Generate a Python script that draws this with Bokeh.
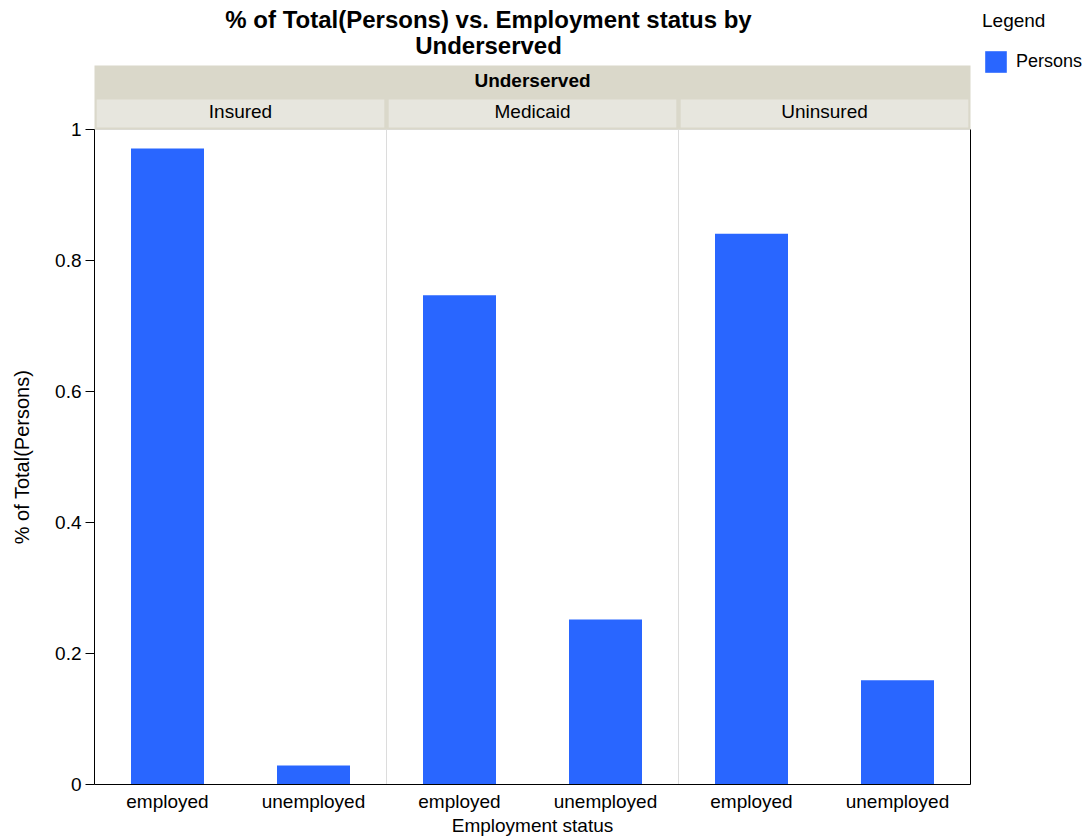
import math
from bokeh.plotting import figure
from bokeh.layouts import row
from bokeh.models import (FactorRange, ColumnDataSource, FixedTicker, LinearAxis,
                          Legend, LegendItem, Range1d)
from bokeh.core.properties import value
from bokeh.embed import file_html
from bokeh.resources import INLINE

# ---- data ----
facet_name = "Underserved"
groups = ["Insured", "Medicaid", "Uninsured"]
statuses = ["employed", "unemployed"]
insured_vals = [0.971, 0.029]
medicaid_vals = [0.747, 0.252]
uninsured_vals = [0.841, 0.159]
y_ticks = [0, 0.2, 0.4, 0.6, 0.8, 1]
y_tick_labels = ["0", "0.2", "0.4", "0.6", "0.8", "1"]
series_name = "Persons"
title_lines = ["% of Total(Persons) vs. Employment status by", "Underserved"]
x_label = "Employment status"
y_label = "% of Total(Persons)"

FONT = "Liberation Sans"
BAR = "#2966FF"
HEAD_DARK = "#dad8ca"
HEAD_LIGHT = "#e7e6de"

factors = [(g, s) for g in groups for s in statuses]
vals = insured_vals + medicaid_vals + uninsured_vals
src = ColumnDataSource(dict(x=factors, top=vals))

y_end = 1.197      # frame reaches the top of the canvas (title lives inside)
band_top = 1.0977  # top of facet header band

xr = FactorRange(*factors, factor_padding=0, group_padding=0,
                 subgroup_padding=0, range_padding=0)
yr = Range1d(0, y_end)

p = figure(frame_width=876, frame_height=784, output_backend="svg",
           toolbar_location=None, x_range=xr, y_range=yr,
           min_border_left=52, min_border_right=5, min_border_top=0,
           min_border_bottom=50)
p.outline_line_color = None
p.xgrid.visible = False
p.ygrid.visible = False
p.background_fill_color = "white"

# panel separators
p.rect(x=groups, y=0.5, width=2, height=1, fill_color=None,
       line_color="#dcdcdc", line_width=1)

bars = p.vbar(x="x", top="top", bottom=0, width=0.5, source=src,
              fill_color=BAR, line_color=None)

# facet headers
p.rect(x=["Medicaid"], y=[(1.0 + band_top) / 2], width=6.02, height=band_top - 1.0,
       fill_color=HEAD_DARK, line_color=None)
p.rect(x=groups, y=1.0244, width=1.97, height=0.0427,
       fill_color=HEAD_LIGHT, line_color=None)
p.text(x=["Medicaid"], y=[1.0748], text=[facet_name], text_align="center",
       text_baseline="middle", text_font=value(FONT), text_font_size="19px",
       text_font_style="bold", text_color="black")
p.text(x=groups, y=1.0275, text=groups, text_align="center",
       text_baseline="middle", text_font=value(FONT), text_font_size="19px",
       text_color="black")

# chart title (two centred lines)
p.text(x=["Medicaid", "Medicaid"], y=[1.1679, 1.1282], text=title_lines,
       text_align="center", text_baseline="middle", x_offset=-44,
       text_font=value(FONT), text_font_size="24px", text_font_style="bold",
       text_color="black")

# y axis
ya = p.yaxis[0]
ya.bounds = (0, 1)
ya.ticker = FixedTicker(ticks=y_ticks)
ya.major_label_overrides = {t: l for t, l in zip(y_ticks, y_tick_labels)}
ya.minor_tick_line_color = None
ya.major_tick_in = 0
ya.major_tick_out = 9
ya.axis_line_color = "black"
ya.major_tick_line_color = "black"
ya.major_label_text_font = FONT
ya.major_label_text_font_size = "19px"
ya.major_label_text_color = "black"
ya.major_label_standoff = 4

# x axis
xa = p.xaxis[0]
xa.major_tick_line_color = None
xa.minor_tick_line_color = None
xa.axis_line_color = "black"
xa.separator_line_color = None
xa.group_text_font_size = "0px"
xa.group_text_color = None
xa.major_label_text_font = FONT
xa.major_label_text_font_size = "19px"
xa.major_label_text_color = "black"
xa.major_label_standoff = 0
xa.major_label_orientation = "horizontal"
xa.axis_label = x_label
xa.axis_label_text_font = FONT
xa.axis_label_text_font_size = "19px"
xa.axis_label_text_font_style = "normal"
xa.axis_label_text_color = "black"
xa.axis_label_standoff = 0

# right border
ra = LinearAxis(bounds=(0, 1), major_tick_line_color=None, minor_tick_line_color=None,
                major_label_text_font_size="0px", major_label_text_color=None,
                axis_line_color="black", major_label_standoff=0)
p.add_layout(ra, "right")

# y-axis title strip (centred on the 0..1 value axis)
lab = figure(width=42, frame_height=784, output_backend="svg", toolbar_location=None,
             x_range=Range1d(0, 1), y_range=yr, x_axis_location=None,
             y_axis_location=None, min_border_left=0, min_border_right=0,
             min_border_top=0, min_border_bottom=0)
lab.outline_line_color = None
lab.grid.visible = False
lab.text(x=[0.5], y=[0.5], text=[y_label], angle=math.pi / 2,
         text_align="center", text_baseline="middle", text_font=value(FONT),
         text_font_size="20px", text_color="black")

# legend strip: its bars lie below the strip's visible y window, so only the
# legend swatch shows
leg = figure(width=108, frame_height=784, output_backend="svg", toolbar_location=None,
             x_range=xr, y_range=Range1d(2, 3), x_axis_location=None,
             y_axis_location=None, min_border_left=0, min_border_right=0,
             min_border_top=0, min_border_bottom=0)
leg.outline_line_color = None
leg.grid.visible = False
leg_r = leg.vbar(x="x", top="top", bottom=0, width=0.5, source=src,
                 fill_color=BAR, line_color=None)
legend = Legend(items=[LegendItem(label=series_name, renderers=[leg_r])],
                title="Legend", location=(6, 709), glyph_width=27, glyph_height=27,
                label_text_font=FONT, label_text_font_size="18px",
                label_text_color="black",
                title_text_font=FONT, title_text_font_size="19px",
                title_text_font_style="normal", title_text_color="black",
                border_line_color=None,
                background_fill_color=None, padding=0, margin=0,
                title_standoff=16, label_standoff=7)
leg.add_layout(legend)

layout = row(lab, p, leg)
open("out.html", "w").write(file_html(layout, INLINE))
